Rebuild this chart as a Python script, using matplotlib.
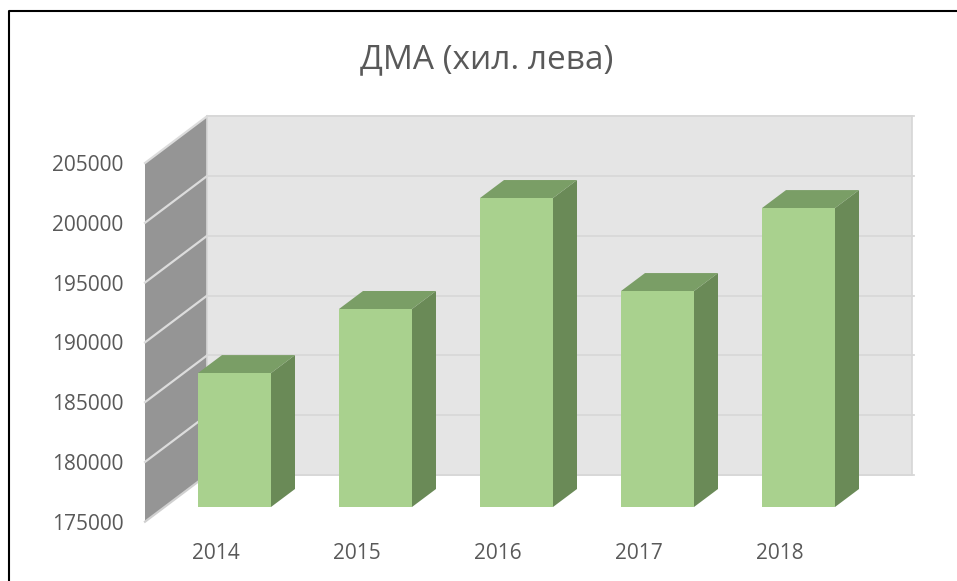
import numpy as np
import matplotlib
matplotlib.use('Agg')
import matplotlib.pyplot as plt
from matplotlib.lines import Line2D
from matplotlib.patches import Polygon

years = ['2014', '2015', '2016', '2017', '2018']
values = [186200, 191560, 200840, 193060, 200000]
yticks = [175000, 180000, 185000, 190000, 195000, 200000, 205000]
title = 'ДМА (хил. лева)'

W, H = 957, 581
plt.rcParams['font.family'] = ['Open Sans', 'DejaVu Sans']

fig = plt.figure(figsize=(W / 100, H / 100), dpi=100)
ax = fig.add_axes([145 / W, (H - 521.7) / H, 705 / W, 358.7 / H])
ax.set_xlim(-0.5, 4.5)
ax.set_ylim(yticks[0], yticks[-1])
ax.patch.set_alpha(0)
for s in ax.spines.values():
    s.set_visible(False)

# pixels -> data units, the fake 3D depth is worked out from these
px_x = 5 / 705
px_y = (yticks[-1] - yticks[0]) / 358.7
wall_dx, wall_dy = 62 * px_x, 46.7 * px_y
bar_dx, bar_dy = 24 * px_x, 18 * px_y
bar_shift, bar_lift = 19 * px_x, 14.7 * px_y
bar_w = 73 * px_x

x0, x1 = ax.get_xlim()
y0, y1 = ax.get_ylim()

# walls
ax.add_patch(Polygon([(x0, y0), (x0 + wall_dx, y0 + wall_dy), (x0 + wall_dx, y1 + wall_dy), (x0, y1)],
                     fc='#959595', ec='none', clip_on=False, zorder=1))
ax.add_patch(Polygon([(x0 + wall_dx, y0 + wall_dy), (x1 + wall_dx, y0 + wall_dy),
                      (x1 + wall_dx, y1 + wall_dy), (x0 + wall_dx, y1 + wall_dy)],
                     fc='#e5e5e5', ec='#d6d6d6', lw=1.2, clip_on=False, zorder=1))

# gridlines, side wall and back wall
for t in yticks:
    side = '#dcdcdc' if t != yticks[0] else '#d0d0d0'
    ax.plot([x0, x0 + wall_dx], [t, t + wall_dy], color=side, lw=1.6, clip_on=False, zorder=2)
    ax.plot([x0 + wall_dx, x1 + wall_dx + 2 * px_x], [t + wall_dy, t + wall_dy],
            color='#d8d8d8', lw=1.3, clip_on=False, zorder=2)

# bars: side and top faces first, then the front through ax.bar
x = np.arange(len(years)) + bar_shift
vals = np.array(values)
for xi, v in zip(x, vals):
    l, r = xi - bar_w / 2, xi + bar_w / 2
    b, t = y0 + bar_lift, v + bar_lift
    ax.add_patch(Polygon([(r, b), (r + bar_dx, b + bar_dy), (r + bar_dx, t + bar_dy), (r, t)],
                         fc='#6a8a57', ec='none', clip_on=False, zorder=3))
    ax.add_patch(Polygon([(l, t), (l + bar_dx, t + bar_dy), (r + bar_dx, t + bar_dy), (r, t)],
                         fc='#7a9e66', ec='none', clip_on=False, zorder=3))
ax.bar(x, vals - y0, bottom=y0 + bar_lift, width=bar_w, color='#a9d18e',
       edgecolor='none', clip_on=False, zorder=4)

ax.set_xticks(np.arange(len(years)), years)
ax.set_yticks(yticks, [str(t) for t in yticks])
ax.tick_params(axis='y', length=0, pad=15.5, labelsize=15, labelcolor='#595959')
ax.tick_params(axis='x', length=0, pad=15, labelsize=15, labelcolor='#595959')

fig.text(487 / W, 1 - 59.5 / H, title, ha='center', va='center', fontsize=24, color='#595959')

# frame of the pasted picture: top and left only, it runs off the other sides
fig.add_artist(Line2D([9 / W, 9 / W, 1], [0, 1 - 10.5 / H, 1 - 10.5 / H], color='black', lw=1.5))

fig.savefig('out.png', dpi=100)
